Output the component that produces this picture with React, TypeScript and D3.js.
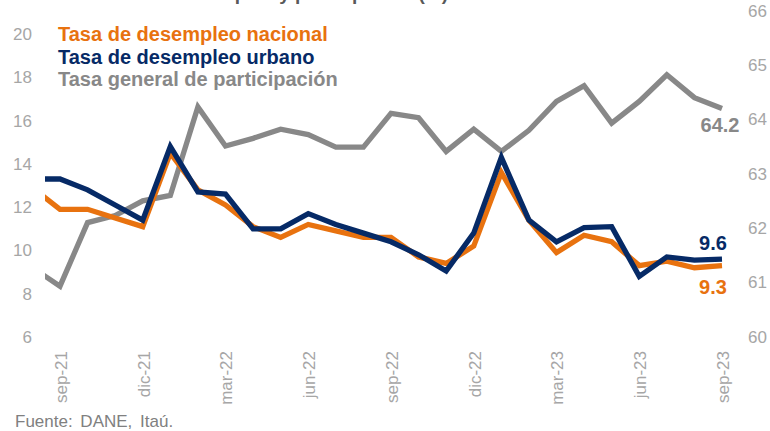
import React from "react";
import * as d3 from "d3";

const months = [
  "ago-21", "sep-21", "oct-21", "nov-21", "dic-21", "ene-22", "feb-22", "mar-22", "abr-22",
  "may-22", "jun-22", "jul-22", "ago-22", "sep-22", "oct-22", "nov-22", "dic-22", "ene-23",
  "feb-23", "mar-23", "abr-23", "may-23", "jun-23", "jul-23", "ago-23", "sep-23",
];
const tickMonths = ["sep-21", "dic-21", "mar-22", "jun-22", "sep-22", "dic-22", "mar-23", "jun-23", "sep-23"];
const nacional = [12.9, 11.9, 11.9, 11.5, 11.1, 14.5, 12.8, 12.1, 11.1, 10.6, 11.2, 10.9, 10.6, 10.6, 9.7, 9.4, 10.2, 13.6, 11.4, 9.9, 10.7, 10.4, 9.3, 9.5, 9.2, 9.3];
const urbano = [13.3, 13.3, 12.8, 12.1, 11.4, 14.8, 12.7, 12.6, 11.0, 11.0, 11.7, 11.2, 10.8, 10.4, 9.8, 9.05, 10.8, 14.3, 11.4, 10.4, 11.05, 11.1, 8.8, 9.7, 9.55, 9.6];
const participacion = [61.27, 60.93, 62.1, 62.23, 62.5, 62.6, 64.23, 63.51, 63.65, 63.82, 63.72, 63.49, 63.49, 64.11, 64.03, 63.41, 63.82, 63.41, 63.8, 64.33, 64.62, 63.93, 64.33, 64.82, 64.4, 64.2];
const leftTicks = [6, 8, 10, 12, 14, 16, 18, 20];
const rightTicks = [60, 61, 62, 63, 64, 65, 66];
const legendLabels = ["Tasa de desempleo nacional", "Tasa de desempleo urbano", "Tasa general de participación"];

const ORANGE = "#E8720F";
const NAVY = "#062A66";
const GRAY = "#888888";
const AXIS = "#a6a6a6";
const FONT = "'Liberation Sans', Arial, sans-serif";

export default function App() {
  const x = d3.scalePoint<string>().domain(months).range([32.4, 722]);
  const yL = d3.scaleLinear().domain([6, 20]).range([337, 34]);
  const yR = d3.scaleLinear().domain([60, 66]).range([336.7, 10.7]);

  const lineL = d3.line<number>().x((_, i) => x(months[i])!).y((d) => yL(d));
  const lineR = d3.line<number>().x((_, i) => x(months[i])!).y((d) => yR(d));

  const last = months.length - 1;
  const xLast = x(months[last])!;

  return (
    <div style={{ position: "absolute", left: 0, top: 0 }}>
      <svg width={770} height={431} style={{ display: "block", background: "#fff" }} fontFamily={FONT}>
        <defs>
          <clipPath id="plotClip">
            <rect x={45} y={0} width={700} height={400} />
          </clipPath>
        </defs>
        <text x={100} y={-0.5} fontSize={19} fontWeight="bold" fill="#595959">
          Tasa de desempleo y participación (%)
        </text>

        {leftTicks.map((t) => (
          <text key={"l" + t} x={32} y={yL(t)} dy="0.35em" textAnchor="end" fontSize={17} fill={AXIS}>
            {t}
          </text>
        ))}
        {rightTicks.map((t) => (
          <text key={"r" + t} x={748} y={yR(t)} dy="0.35em" textAnchor="start" fontSize={17} fill={AXIS}>
            {t}
          </text>
        ))}
        {tickMonths.map((m) => (
          <text
            key={m}
            transform={`translate(${x(m)! + 1},351) rotate(-90)`}
            dy="0.35em"
            textAnchor="end"
            fontSize={17}
            fill={AXIS}
          >
            {m}
          </text>
        ))}

        <g clipPath="url(#plotClip)" fill="none" strokeWidth={5.3} strokeLinejoin="miter" strokeMiterlimit={4}>
          <path d={lineR(participacion)!} stroke={GRAY} />
          <path d={lineL(nacional)!} stroke={ORANGE} />
          <path d={lineL(urbano)!} stroke={NAVY} />
        </g>

        {legendLabels.map((l, i) => (
          <text key={l} x={58} y={41 + i * 22.5} fontSize={20} fontWeight="bold" fill={[ORANGE, NAVY, GRAY][i]}>
            {l}
          </text>
        ))}

        <text x={xLast - 2} y={132} textAnchor="middle" fontSize={20} fontWeight="bold" fill={GRAY}>
          {participacion[last].toFixed(1)}
        </text>
        <text x={xLast - 9} y={250} textAnchor="middle" fontSize={20} fontWeight="bold" fill={NAVY}>
          {urbano[last].toFixed(1)}
        </text>
        <text x={xLast - 9} y={294} textAnchor="middle" fontSize={20} fontWeight="bold" fill={ORANGE}>
          {nacional[last].toFixed(1)}
        </text>

        <text x={15} y={427} fontSize={17} wordSpacing={3} fill="#808080">
          Fuente: DANE, Itaú.
        </text>
      </svg>
    </div>
  );
}
